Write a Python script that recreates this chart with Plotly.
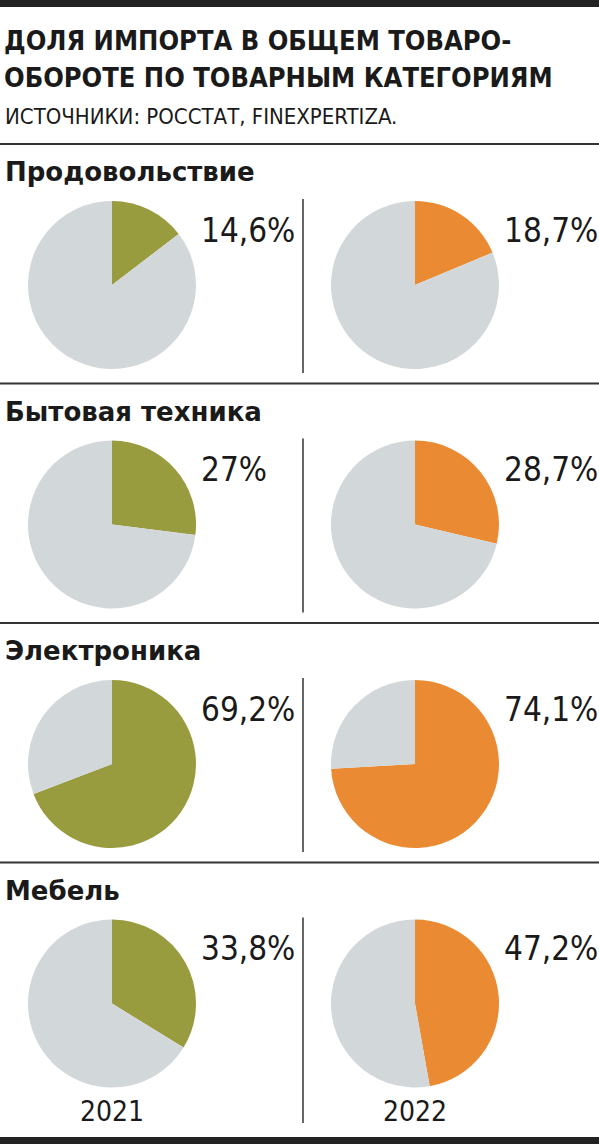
import plotly.graph_objects as go

W, H = 599, 1144

# data
categories = ["Продовольствие", "Бытовая техника", "Электроника", "Мебель"]
share_2021 = [14.6, 27, 69.2, 33.8]
share_2022 = [18.7, 28.7, 74.1, 47.2]
years = ["2021", "2022"]

title_lines = ["ДОЛЯ ИМПОРТА В ОБЩЕМ ТОВАРО-", "ОБОРОТЕ ПО ТОВАРНЫМ КАТЕГОРИЯМ"]
source = "ИСТОЧНИКИ: РОССТАТ, FINEXPERTIZA."

col_colors = ["#999b3f", "#ea8b34"]
rest_color = "#d2d7da"
ink = "#1a1a1a"
cond = "DejaVu Sans Condensed, sans-serif"


def px(x):
    return x / W


def py(y):
    return 1 - y / H


def fmt(v):
    return f"{v:g}".replace(".", ",") + "%"


fig = go.Figure()
annotations = []
shapes = []

row_top = 144      # first separator line
row_step = 239.5
pie_cx = [112, 415]
r = 84

for i, cat in enumerate(categories):
    top = row_top + i * row_step
    shapes.append(dict(type="line", xref="paper", yref="paper",
                       x0=0, x1=1, y0=py(top), y1=py(top),
                       line=dict(color="#333333", width=2)))
    annotations.append(dict(text="<b>" + cat + "</b>", x=px(3), y=py(top + 45),
                            xanchor="left", yanchor="bottom", showarrow=False,
                            font=dict(family="DejaVu Sans", size=26, color=ink)))
    cy = top + 141
    for j, vals in enumerate([share_2021, share_2022]):
        v = vals[i]
        fig.add_trace(go.Pie(
            values=[v, 100 - v],
            labels=["импорт", "прочее"],
            sort=False, direction="clockwise", rotation=0,
            marker=dict(colors=[col_colors[j], rest_color], line=dict(width=0)),
            textinfo="none", hoverinfo="skip", showlegend=False,
            domain=dict(x=[px(pie_cx[j] - r), px(pie_cx[j] + r)],
                        y=[py(cy + r), py(cy - r)]),
        ))
        annotations.append(dict(text=fmt(v), x=px(pie_cx[j] + r + 3), y=py(cy - r + 29),
                                xanchor="left", yanchor="middle", showarrow=False,
                                font=dict(family=cond, size=33, color=ink)))
    # vertical divider between the two years
    vbottom = cy + r + 4 if i < len(categories) - 1 else 1123
    shapes.append(dict(type="line", xref="paper", yref="paper",
                       x0=px(303), x1=px(303), y0=py(cy - r - 2), y1=py(vbottom),
                       line=dict(color="#333333", width=1.5)))

for j, yr in enumerate(years):
    annotations.append(dict(text=yr, x=px(pie_cx[j]), y=py(1111), xanchor="center",
                            yanchor="middle", showarrow=False,
                            font=dict(family=cond, size=28, color=ink)))

# title block
for k, line in enumerate(title_lines):
    annotations.append(dict(text="<b>" + line + "</b>", x=px(2), y=py(58 + k * 37),
                            xanchor="left", yanchor="bottom", showarrow=False,
                            font=dict(family=cond, size=27, color=ink)))
annotations.append(dict(text=source, x=px(3), y=py(131), xanchor="left",
                        yanchor="bottom", showarrow=False,
                        font=dict(family=cond, size=22, color=ink)))

# thick rules top and bottom
shapes.append(dict(type="rect", xref="paper", yref="paper", x0=0, x1=1,
                   y0=py(7), y1=1, fillcolor="#222222", line=dict(width=0)))
shapes.append(dict(type="rect", xref="paper", yref="paper", x0=0, x1=1,
                   y0=0, y1=py(1137), fillcolor="#222222", line=dict(width=0)))

fig.update_layout(
    width=W, height=H,
    margin=dict(l=0, r=0, t=0, b=0),
    paper_bgcolor="white", plot_bgcolor="white",
    annotations=annotations, shapes=shapes,
)

# page body has a default 8px margin; drop it so the figure fills the window
fig.write_html("out.html", config={"displayModeBar": False},
               post_script="document.body.style.margin = '0';")
